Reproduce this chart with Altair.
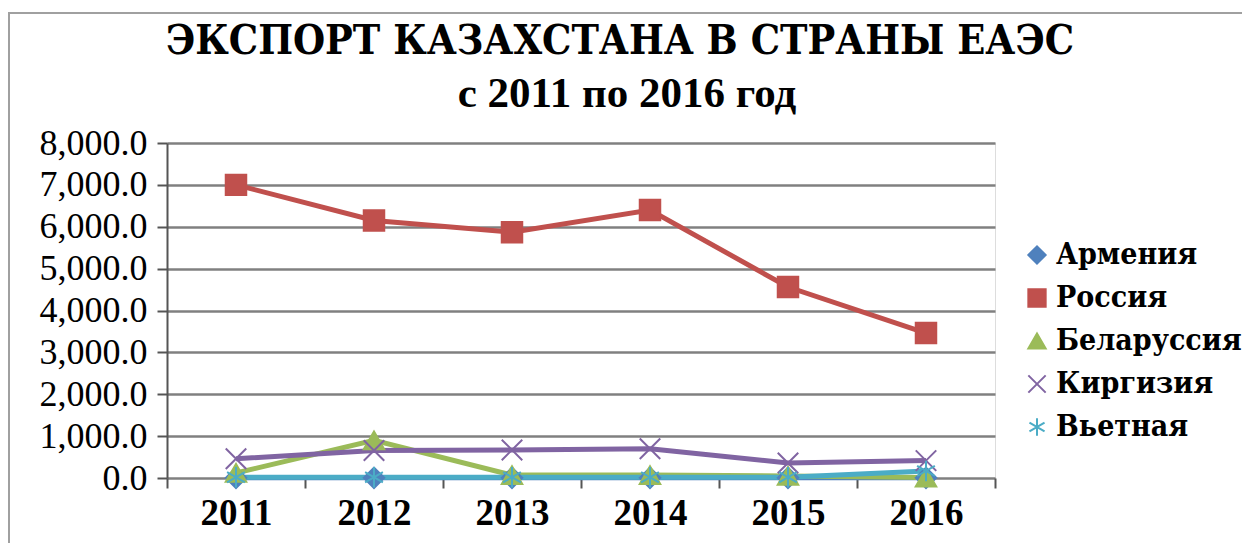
import altair as alt
import pandas as pd

years = ["2011", "2012", "2013", "2014", "2015", "2016"]
series = ["Армения", "Россия", "Беларуссия", "Киргизия", "Вьетная"]
armenia = [3, 3, 3, 3, 3, 3]
russia = [7000, 6150, 5870, 6400, 4560, 3460]
belarus = [120, 900, 70, 70, 50, 10]
kyrgyz = [460, 655, 670, 700, 360, 415]
vietnam = [20, 20, 20, 20, 20, 170]
colors = ["#4F81BD", "#C0504D", "#9BBB59", "#8064A2", "#4BACC6"]
X_PATH = "M-1,-1L1,1M-1,1L1,-1"
STAR_PATH = "M0,-1L0,1M-0.87,-0.5L0.87,0.5M-0.87,0.5L0.87,-0.5"
shapes = ["diamond", "square", "triangle-up", X_PATH, STAR_PATH]
y_ticks = [0, 1000, 2000, 3000, 4000, 5000, 6000, 7000, 8000]
title_line1 = "ЭКСПОРТ КАЗАХСТАНА В СТРАНЫ ЕАЭС"
title_line2 = "с 2011 по 2016 год"

rows = []
for name, vals in zip(series, [armenia, russia, belarus, kyrgyz, vietnam]):
    for yr, v in zip(years, vals):
        rows.append({"year": yr, "series": name, "value": v})
df = pd.DataFrame(rows)

FONT = "Liberation Serif"
CYR = "'DejaVu Serif Condensed', 'DejaVu Serif', serif"
MIX = "'Liberation Serif', 'DejaVu Serif Condensed', 'DejaVu Serif', serif"

x = alt.X(
    "year:O", sort=years, title=None,
    scale=alt.Scale(type="band", paddingInner=0, paddingOuter=0),
    bandPosition=0.5,
    axis=alt.Axis(labelAngle=0, tickBand="extent", domain=False, grid=False,
                  ticks=True, tickSize=10, tickColor="#555", tickWidth=2,
                  labelFont=FONT, labelFontSize=37, labelFontWeight="bold",
                  labelColor="black", labelPadding=7),
)
y = alt.Y(
    "value:Q", title=None,
    scale=alt.Scale(domain=[0, 8000], nice=False),
    axis=alt.Axis(values=y_ticks, format=",.1f", domain=True, domainColor="#555",
                  domainWidth=2, ticks=True, tickSize=10, tickColor="#555",
                  tickWidth=2, grid=True, gridColor="#808080", gridWidth=2.5,
                  labelFont=FONT, labelFontSize=36, labelColor="black",
                  labelPadding=10),
)

legend = alt.Legend(title=None, orient="none", legendX=855, legendY=97,
                    labelFont=CYR, labelFontSize=30, labelFontWeight="bold",
                    labelColor="black", symbolSize=300, symbolStrokeWidth=2,
                    rowPadding=13, labelOffset=4, labelLimit=400)
cscale = alt.Scale(domain=series, range=colors)

lines = alt.Chart(df).mark_line(strokeWidth=5).encode(
    x=x, y=y, color=alt.Color("series:N", scale=cscale, legend=legend)
)
points = alt.Chart(df).mark_point(filled=True, size=420, strokeWidth=2, opacity=1).encode(
    x=x, y=y,
    color=alt.Color("series:N", scale=cscale, legend=legend),
    stroke=alt.Stroke("series:N", scale=cscale, legend=legend),
    shape=alt.Shape("series:N", scale=alt.Scale(domain=series, range=shapes), legend=legend),
)
one = alt.Data(values=[{"a": 1}])
frame = alt.Chart(one).mark_rect(
    fillOpacity=0, stroke="#a0a0a0", strokeWidth=2
).encode(x=alt.value(-158), x2=alt.value(1300), y=alt.value(-130), y2=alt.value(700))
t1 = alt.Chart(one).mark_text(
    text=title_line1, font=CYR, fontSize=41, fontWeight="bold", color="black",
    align="center", baseline="alphabetic"
).encode(x=alt.value(453), y=alt.value(-89))
t2 = alt.Chart(one).mark_text(
    text=title_line2, font=MIX, fontSize=43, fontWeight="bold", color="black",
    align="center", baseline="alphabetic"
).encode(x=alt.value(460), y=alt.value(-36))

chart = alt.layer(frame, t1, t2, lines, points).properties(
    width=828, height=335,
    autosize=alt.AutoSizeParams(type="none"),
    padding={"left": 159, "top": 135, "right": 247, "bottom": 65},
).configure_view(stroke=None).configure(background="white")

chart.save("out.html", embed_options={"renderer": "svg", "actions": False})
